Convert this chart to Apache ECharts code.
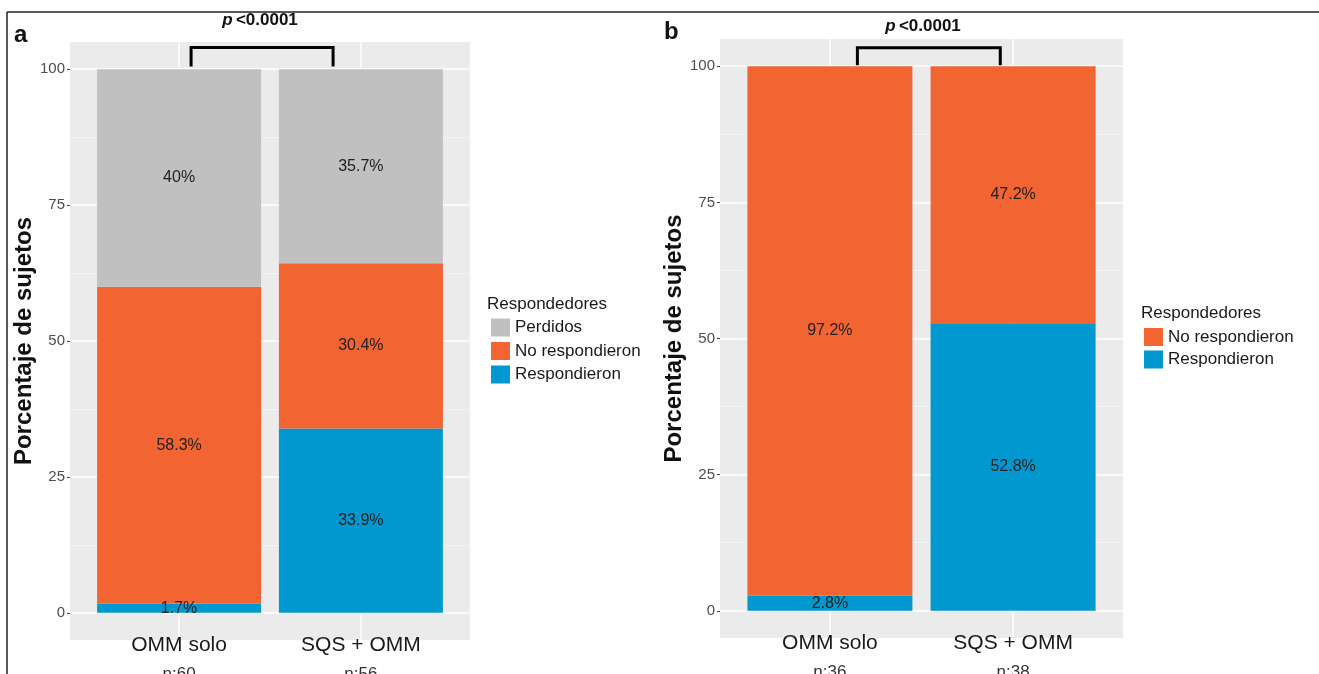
<!DOCTYPE html>
<html><head><meta charset="utf-8">
<script src="https://cdn.jsdelivr.net/npm/echarts@6/dist/echarts.min.js"></script>
<style>html,body{margin:0;padding:0;background:#fff}#c{width:1319px;height:674px}</style>
</head><body><div id="c"></div>
<script>
// ---- data ----
const categories = ['OMM solo', 'SQS + OMM'];
const catPos = [1, 2];
const nA = ['n:60', 'n:56'];
const nB = ['n:36', 'n:38'];
const yTicks = [0, 25, 50, 75, 100];
const yMinor = [12.5, 37.5, 62.5, 87.5];
const aRespondieron = [1.7, 33.9];
const aNoRespondieron = [58.3, 30.4];
const aPerdidos = [40, 35.7];
const bRespondieron = [2.8, 52.8];
const bNoRespondieron = [97.2, 47.2];
const bracketAX = [1.066, 1.847];
const bracketAY = [100.5, 104];
const bracketBX = [1.15, 1.93];
const bracketBY = [100.2, 103.4];
const pText = '<0.0001';

// ---- styling ----
const FONT = 'Liberation Sans, Arial, sans-serif';
const C_GRAY = '#BFC0BF', C_ORANGE = '#F26432', C_BLUE = '#0098CE';

const bracket = (X, Y) => [[X[0], Y[0]], [X[0], Y[1]], [X[1], Y[1]], [X[1], Y[0]]];

// background (panel) x axis, continuous like ggplot's discrete scale with 0.6 expansion
function xBg(gi) {
  return {
    type: 'value', gridIndex: gi, min: 0.4, max: 2.6,
    axisLine: {show: false},
    axisTick: {show: false, customValues: catPos},
    axisLabel: {show: false, customValues: catPos},
    splitLine: {show: true, lineStyle: {color: '#fff', width: 1.5}}
  };
}
function xCat(gi, ns) {
  return {
    type: 'category', gridIndex: gi, data: categories, boundaryGap: true,
    axisLine: {show: false}, axisTick: {show: false}, splitLine: {show: false},
    axisLabel: {
      margin: -5, verticalAlign: 'top', interval: 0,
      formatter: (v, i) => '{c|' + v + '}\n{n|' + ns[i] + '}',
      rich: {
        c: {fontSize: 21, fontFamily: FONT, color: '#1a1a1a', lineHeight: 20},
        n: {fontSize: 17, fontFamily: FONT, color: '#333', lineHeight: 38}
      }
    }
  };
}
function yMain(gi, gap) {
  return {
    type: 'value', gridIndex: gi, min: -5, max: 105,
    name: 'Porcentaje de sujetos', nameLocation: 'middle', nameGap: gap,
    nameTextStyle: {fontSize: 24, fontWeight: 'bold', fontFamily: FONT, color: '#111'},
    axisLine: {show: false},
    axisTick: {show: true, length: 3, customValues: yTicks, lineStyle: {color: '#444'}},
    axisLabel: {customValues: yTicks, fontSize: 15, fontFamily: FONT, color: '#4d4d4d', margin: 5},
    splitLine: {show: true, lineStyle: {color: '#fff', width: 1.5}}
  };
}
function yMinorAx(gi) {
  return {
    type: 'value', gridIndex: gi, min: -5, max: 105, position: 'left',
    axisLine: {show: false},
    axisTick: {show: false, customValues: yMinor},
    axisLabel: {show: false, customValues: yMinor},
    splitLine: {show: true, lineStyle: {color: '#f6f6f6', width: 0.8}}
  };
}
function yHidden(gi) {
  return {
    type: 'value', gridIndex: gi, min: -5, max: 105, show: false,
    splitLine: {show: false}
  };
}
function barSeries(name, vals, xi, yi, stack, color, bw) {
  return {
    type: 'bar', name, stack, xAxisIndex: xi, yAxisIndex: yi, barWidth: bw,
    data: vals, itemStyle: {color},
    label: {show: true, position: 'inside', formatter: p => p.value + '%',
      fontSize: 16, fontFamily: FONT, color: '#222', textBorderWidth: 0},
    z: 3
  };
}
function bracketSeries(X, Y, xi, yi) {
  return {
    type: 'line', name: 'bracket' + xi, xAxisIndex: xi, yAxisIndex: yi,
    data: bracket(X, Y), symbol: 'none', silent: true, z: 5,
    lineStyle: {color: '#000', width: 3, join: 'miter'}
  };
}

const legendCommon = {
  orient: 'vertical', padding: 0, itemWidth: 19, itemHeight: 18, icon: 'rect',
  textStyle: {fontSize: 17, fontFamily: FONT, color: '#1a1a1a'},
  selectedMode: false
};
const gridCommon = {outerBoundsMode: 'none', containLabel: false, borderWidth: 0};

const chart = echarts.init(document.getElementById('c'), null, {renderer: 'canvas'});
chart.setOption({
  animation: false,
  backgroundColor: '#fff',
  grid: [
    Object.assign({left: 70, top: 42, width: 400, height: 598, show: true, backgroundColor: '#EBEBEB'}, gridCommon),
    Object.assign({left: 88.2, top: 42, width: 363.6, height: 598, show: false}, gridCommon),
    Object.assign({left: 720, top: 39, width: 403, height: 599, show: true, backgroundColor: '#EBEBEB'}, gridCommon),
    Object.assign({left: 738.3, top: 39, width: 366.4, height: 599, show: false}, gridCommon)
  ],
  xAxis: [xBg(0), xCat(1, nA), xBg(2), xCat(3, nB)],
  yAxis: [yMain(0, 30), yMinorAx(0), yHidden(1), yMain(2, 31), yMinorAx(2), yHidden(3)],
  legend: [
    Object.assign({}, legendCommon, {left: 491, top: 318.5, itemGap: 5.5,
      data: ['Perdidos', 'No respondieron', 'Respondieron']}),
    Object.assign({}, legendCommon, {left: 1144, top: 328, itemGap: 4.5,
      data: ['No respondieron', 'Respondieron']})
  ],
  graphic: [
    {type: 'line', shape: {x1: 7, y1: 12, x2: 1319, y2: 12}, style: {stroke: '#222', lineWidth: 1.5}},
    {type: 'line', shape: {x1: 7, y1: 12, x2: 7, y2: 674}, style: {stroke: '#222', lineWidth: 1.5}},
    {type: 'text', x: 14, y: 35, style: {text: 'a', font: 'bold 24px ' + FONT, fill: '#111', verticalAlign: 'middle'}},
    {type: 'text', x: 664, y: 32, style: {text: 'b', font: 'bold 24px ' + FONT, fill: '#111', verticalAlign: 'middle'}},
    {type: 'text', x: 487, y: 304, style: {text: 'Respondedores', font: '17px ' + FONT, fill: '#1a1a1a', verticalAlign: 'middle'}},
    {type: 'text', x: 1141, y: 313, style: {text: 'Respondedores', font: '17px ' + FONT, fill: '#1a1a1a', verticalAlign: 'middle'}},
    {type: 'text', x: 260, y: 20, style: {text: '{p|p} {t|' + pText + '}', align: 'center', verticalAlign: 'middle',
      rich: {p: {font: 'italic bold 17px ' + FONT, fill: '#111'}, t: {font: 'bold 17px ' + FONT, fill: '#111'}}}},
    {type: 'text', x: 923, y: 26, style: {text: '{p|p} {t|' + pText + '}', align: 'center', verticalAlign: 'middle',
      rich: {p: {font: 'italic bold 17px ' + FONT, fill: '#111'}, t: {font: 'bold 17px ' + FONT, fill: '#111'}}}}
  ],
  series: [
    barSeries('Respondieron', aRespondieron, 1, 2, 'a', C_BLUE, 164),
    barSeries('No respondieron', aNoRespondieron, 1, 2, 'a', C_ORANGE, 164),
    barSeries('Perdidos', aPerdidos, 1, 2, 'a', C_GRAY, 164),
    barSeries('Respondieron', bRespondieron, 3, 5, 'b', C_BLUE, 165),
    barSeries('No respondieron', bNoRespondieron, 3, 5, 'b', C_ORANGE, 165),
    bracketSeries(bracketAX, bracketAY, 0, 0),
    bracketSeries(bracketBX, bracketBY, 2, 3)
  ]
});
</script></body></html>
